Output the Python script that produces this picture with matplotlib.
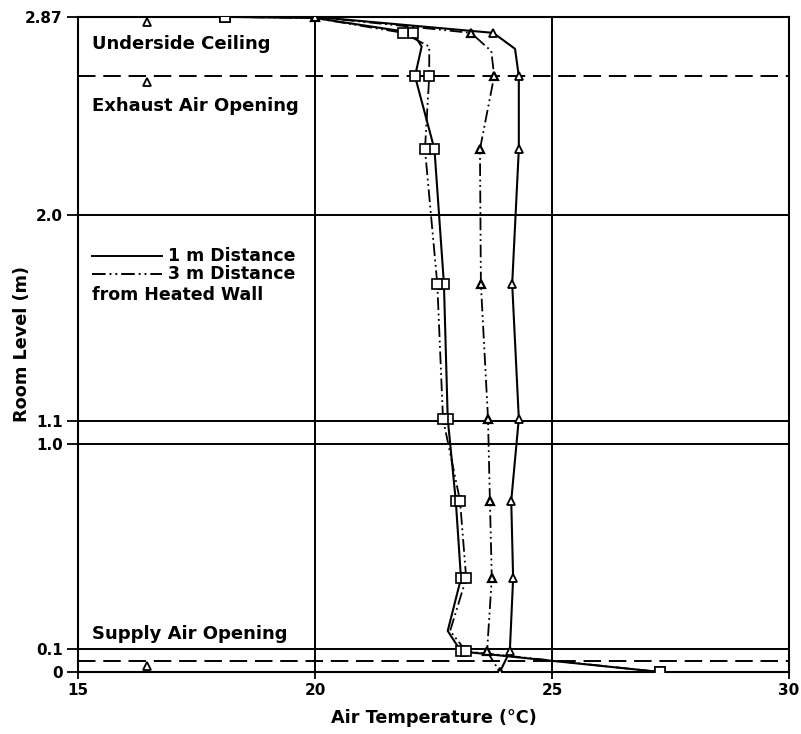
import matplotlib
matplotlib.use("Agg")
import matplotlib.pyplot as plt
from matplotlib import transforms
from matplotlib.lines import Line2D

plt.rcParams['font.family'] = ['DejaVu Sans']
plt.rcParams['font.weight'] = 'bold'

# room levels that are marked in the room section (m)
solid_levels = [2.0, 1.1, 1.0, 0.1]
dashed_levels = [2.61, 0.05]
level_mark_x = 16.46
level_mark_y = [2.87, 2.61, 0.05]
y_ticks = [0, 0.1, 1.0, 1.1, 2.0, 2.87]
y_tick_labels = ['0', '0.1', '1.0', '1.1', '2.0', '2.87']
x_ticks = [15, 20, 25, 30]
x_grid = [20, 25]

# square series, 1 m distance (solid)
sq1_temp = [18.1, 20.0, 22.07, 22.25, 22.11, 22.52, 22.72, 22.80, 22.97, 23.08, 22.80, 23.08, 27.28]
sq1_height = [2.87, 2.865, 2.80, 2.74, 2.61, 2.29, 1.70, 1.11, 0.75, 0.41, 0.18, 0.09, 0.0]
sq1_marks = [0, 2, 4, 5, 6, 7, 8, 9, 11, 12]

# square series, 3 m distance (dash-dot)
sq3_temp = [18.1, 20.0, 21.86, 22.41, 22.41, 22.32, 22.58, 22.70, 23.06, 23.19, 22.85, 23.19, 27.28]
sq3_height = [2.87, 2.865, 2.80, 2.74, 2.61, 2.29, 1.70, 1.11, 0.75, 0.41, 0.18, 0.09, 0.0]
sq3_marks = [0, 2, 4, 5, 6, 7, 8, 9, 11, 12]

# triangle series, 1 m distance (solid)
tr1_temp = [20.0, 23.76, 24.22, 24.30, 24.30, 24.16, 24.30, 24.14, 24.18, 24.11, 23.90]
tr1_height = [2.87, 2.80, 2.73, 2.61, 2.29, 1.70, 1.11, 0.75, 0.41, 0.09, 0.0]
tr1_marks = [0, 1, 3, 4, 5, 6, 7, 8, 9, 10]

# triangle series, 3 m distance (dash-dot)
tr3_temp = [20.0, 23.29, 23.72, 23.78, 23.48, 23.50, 23.65, 23.69, 23.73, 23.63, 23.90]
tr3_height = [2.87, 2.80, 2.72, 2.61, 2.29, 1.70, 1.11, 0.75, 0.41, 0.09, 0.0]
tr3_marks = [0, 1, 3, 4, 5, 6, 7, 8, 9, 10]

legend_labels = ['1 m Distance', '3 m Distance']

dashdotdot = (0, (7, 2, 1, 2, 1, 2))

fig = plt.figure(figsize=(8.01, 7.34), dpi=100)
ax = fig.add_axes([0.0974, 0.0845, 0.8876, 0.8925])

for lv in solid_levels:
    ax.axhline(lv, color='black', lw=1.4, zorder=1)
for lv in dashed_levels:
    ax.axhline(lv, color='black', lw=1.4, ls=(0, (9, 4)), zorder=1)
for xv in x_grid:
    ax.axvline(xv, color='black', lw=1.4, zorder=1)

# water-level style marks under the ceiling / openings
shift = transforms.offset_copy(ax.transData, fig=fig, x=0, y=-4, units='points')
ax.plot([level_mark_x] * len(level_mark_y), level_mark_y, ls='none', marker='^',
        ms=6, mfc='white', mec='black', mew=1.3, transform=shift, zorder=3)

ax.plot(sq1_temp, sq1_height, color='black', lw=1.5, marker='s', markevery=sq1_marks,
        ms=7, mfc='white', mec='black', mew=1.2, zorder=4)
ax.plot(sq3_temp, sq3_height, color='black', lw=1.3, ls=dashdotdot, marker='s',
        markevery=sq3_marks, ms=7, mfc='white', mec='black', mew=1.2, zorder=4)
ax.plot(tr1_temp, tr1_height, color='black', lw=1.5, marker='^', markevery=tr1_marks,
        ms=6, mfc='white', mec='black', mew=1.3, zorder=4)
ax.plot(tr3_temp, tr3_height, color='black', lw=1.3, ls=dashdotdot, marker='^',
        markevery=tr3_marks, ms=6, mfc='white', mec='black', mew=1.6, zorder=4)

ax.set_xlim(15, 30)
ax.set_ylim(0, 2.87)
ax.set_xticks(x_ticks)
ax.set_yticks(y_ticks)
ax.set_yticklabels(y_tick_labels)
ax.tick_params(axis='both', direction='out', width=1.3, labelsize=11)
ax.tick_params(axis='y', length=8, pad=3)
ax.tick_params(axis='x', length=5, pad=3)
for sp in ax.spines.values():
    sp.set_linewidth(1.5)

ax.set_xlabel('Air Temperature (°C)', fontsize=12.7, fontweight='bold', labelpad=8)
ax.set_ylabel('Room Level (m)', fontsize=12.7, fontweight='bold', labelpad=-4)

ax.text(15.3, 2.75, 'Underside Ceiling', fontsize=13, fontweight='bold', va='center')
ax.text(15.3, 2.48, 'Exhaust Air Opening', fontsize=13, fontweight='bold', va='center')
ax.text(15.3, 0.165, 'Supply Air Opening', fontsize=13, fontweight='bold', va='center')

# legend drawn by hand: two line samples and a caption line
leg_styles = ['-', dashdotdot]
leg_rows = [0.635, 0.607]
for style, row, label in zip(leg_styles, leg_rows, legend_labels):
    ax.add_line(Line2D([0.02, 0.118], [row, row], transform=ax.transAxes,
                       color='black', lw=1.4, ls=style))
    ax.text(0.127, row, label, transform=ax.transAxes, fontsize=12.5,
            fontweight='bold', va='center')
ax.text(0.02, 0.576, 'from Heated Wall', transform=ax.transAxes, fontsize=12.5,
        fontweight='bold', va='center')

fig.savefig('out.png', dpi=100)
